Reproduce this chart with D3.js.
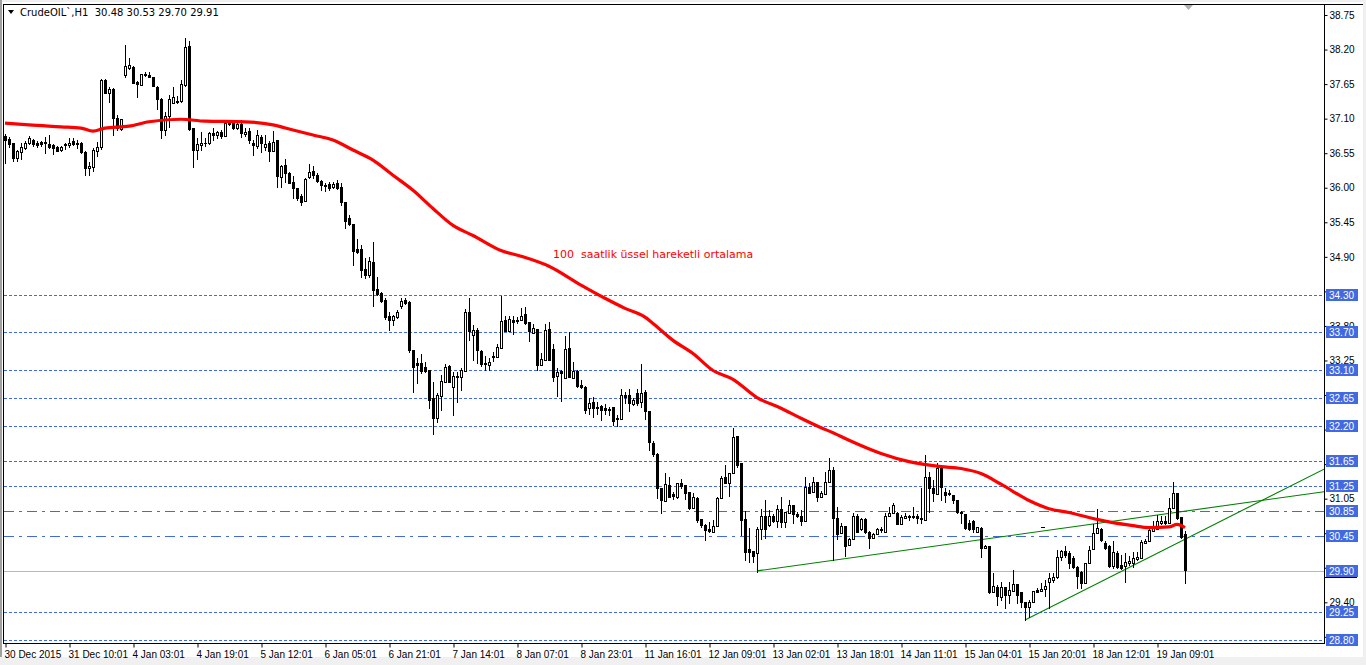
<!DOCTYPE html>
<html><head><meta charset="utf-8">
<script src="https://cdn.jsdelivr.net/npm/d3@7"></script>
<style>
html,body{margin:0;padding:0;background:#f0f0f0;overflow:hidden}
svg{display:block}
text{font-family:"Liberation Sans",Arial,sans-serif}
</style></head>
<body>
<svg id="c" width="1366" height="665"></svg>
<script>
// ---------------- DATA ----------------
const symbolTitle = "CrudeOIL`,H1  30.48 30.53 29.70 29.91";
const emaLabel = "100  saatlik üssel hareketli ortalama";

// OHLC of each H1 bar
const opens = [
36.82,36.78,36.71,36.47,36.57,36.63,36.71,36.76,36.71,36.73,
36.73,36.70,36.68,36.65,36.60,36.70,36.68,36.74,36.71,36.71,
36.57,36.31,36.33,36.58,36.65,37.72,37.51,37.57,37.11,36.94,
37.80,37.91,37.92,37.69,37.64,37.80,37.80,37.76,37.61,37.41,
36.92,37.14,37.35,37.37,37.38,37.64,38.26,36.95,36.60,36.68,
36.71,36.71,36.87,36.84,36.89,36.82,37.02,37.03,36.95,37.02,
36.86,36.90,36.71,36.66,36.81,36.65,36.71,36.58,36.76,36.17,
36.36,36.23,36.09,36.00,35.87,35.79,36.17,36.27,36.20,36.11,
36.04,36.06,36.01,36.08,36.01,35.77,35.52,35.43,35.03,35.03,
34.71,34.61,34.82,34.39,34.33,34.21,33.96,33.90,33.94,34.12,
34.21,34.18,33.42,33.21,33.21,33.15,33.10,32.65,32.34,32.69,
32.91,33.16,32.83,33.00,32.99,33.08,34.02,33.66,33.74,33.40,
33.21,33.18,33.31,33.31,33.45,33.90,33.72,33.90,33.88,33.90,
33.99,33.86,33.69,33.75,33.18,33.26,33.75,33.43,33.00,33.08,
32.97,33.45,32.97,33.08,32.86,32.83,32.49,32.59,32.51,32.53,
32.49,32.48,32.51,32.34,32.32,32.70,32.70,32.56,32.73,32.59,
32.75,32.45,31.94,31.76,31.22,31.01,31.27,31.13,31.08,31.30,
31.27,31.16,30.90,31.06,30.73,30.63,30.57,30.52,30.62,31.06,
31.40,31.30,31.46,32.05,31.62,30.73,30.25,30.22,30.19,30.57,
30.78,30.63,30.78,30.70,30.89,30.68,30.82,30.95,30.81,30.78,
30.70,31.24,31.16,31.32,31.08,31.13,31.32,31.51,30.74,30.50,
30.62,30.31,30.41,30.78,30.57,30.73,30.52,30.42,30.49,30.55,
30.52,30.78,30.82,30.82,30.65,30.74,30.78,30.76,30.78,30.73,
30.71,31.40,31.22,31.13,31.54,31.16,31.13,31.11,31.03,30.84,
30.81,30.66,30.70,30.52,30.58,30.27,30.30,29.57,29.65,29.49,
29.65,29.52,29.58,29.69,29.57,29.41,29.33,29.41,29.60,29.58,
29.61,29.73,29.76,29.81,30.12,30.22,30.19,30.11,29.96,29.88,
29.71,30.03,30.25,30.50,30.57,30.35,30.30,29.98,30.19,29.99,
29.98,30.03,30.03,30.09,30.11,30.35,30.38,30.54,30.57,30.66,
30.70,30.66,30.90,31.14,30.76,30.48];
const highs = [
36.86,36.81,36.71,36.60,36.71,36.75,36.82,36.78,36.74,36.74,
36.81,36.84,36.70,36.66,36.66,36.71,36.79,36.79,36.76,36.73,
36.58,36.41,36.63,36.73,37.73,37.73,37.61,37.59,37.16,37.10,
38.27,38.06,37.94,37.70,37.81,37.84,37.84,37.76,37.62,37.43,
37.21,37.48,37.61,37.46,37.72,38.39,38.34,36.95,36.79,36.89,
36.79,36.89,36.95,36.90,36.92,37.03,37.05,37.08,37.08,37.08,
36.95,36.95,36.76,36.92,36.84,36.84,36.74,36.90,36.76,36.36,
36.46,36.25,36.19,36.00,35.90,36.16,36.38,36.35,36.24,36.12,
36.08,36.09,36.09,36.12,36.08,35.77,35.57,35.43,35.19,35.09,
34.88,34.90,35.14,34.58,34.34,34.25,34.02,33.97,34.05,34.25,
34.25,34.20,33.42,33.29,33.35,33.23,33.10,32.91,32.73,33.02,
33.20,33.18,33.07,33.07,33.13,34.07,34.25,33.82,33.77,33.42,
33.32,33.29,33.39,33.52,34.28,33.96,33.96,33.96,33.94,34.09,
34.10,33.86,33.83,33.75,33.37,33.83,33.86,33.51,33.13,33.10,
33.64,33.70,33.23,33.10,32.94,32.84,32.65,32.67,32.59,32.54,
32.56,32.51,32.51,32.38,32.80,32.75,32.80,32.65,32.80,33.20,
32.78,32.45,31.97,31.78,31.22,31.46,31.40,31.16,31.30,31.36,
31.27,31.16,31.14,31.08,30.73,30.65,30.68,30.71,31.08,31.41,
31.59,31.46,32.18,32.05,31.62,30.85,30.58,30.22,30.60,30.89,
31.03,30.87,30.81,30.95,31.08,30.84,31.03,30.95,30.84,30.87,
31.40,31.30,31.40,31.32,31.17,31.48,31.70,31.56,30.92,30.66,
30.62,30.42,30.82,30.81,30.74,30.74,30.54,30.50,30.58,30.60,
30.82,30.92,30.98,30.84,30.79,30.82,30.79,30.92,30.81,31.22,
31.75,31.48,31.35,31.62,31.56,31.22,31.19,31.11,31.03,30.86,
30.81,30.71,30.71,30.60,30.60,30.31,30.30,29.87,29.68,29.73,
29.65,29.73,29.92,29.69,29.57,29.41,29.44,29.58,29.63,29.71,
29.76,29.87,29.87,30.23,30.23,30.30,30.22,30.14,29.98,29.90,
30.03,30.30,30.65,30.88,30.58,30.38,30.31,30.38,30.22,30.15,
30.19,30.14,30.20,30.20,30.39,30.41,30.58,30.70,30.79,30.78,
30.78,31.06,31.32,31.14,30.76,30.53];
const lows = [
36.39,36.65,36.42,36.42,36.46,36.62,36.70,36.66,36.65,36.66,
36.55,36.63,36.54,36.58,36.58,36.62,36.65,36.68,36.63,36.55,
36.20,36.20,36.27,36.50,36.62,37.51,37.37,36.84,36.92,36.92,
37.76,37.89,37.67,37.45,37.64,37.78,37.76,37.62,37.25,36.79,
36.84,36.97,37.35,37.35,37.37,37.62,36.92,36.33,36.46,36.60,
36.66,36.70,36.76,36.79,36.79,36.82,37.00,36.94,36.94,36.81,
36.82,36.71,36.52,36.63,36.57,36.60,36.42,36.58,36.01,36.01,
36.09,36.08,35.84,35.81,35.73,35.79,36.16,36.16,36.09,35.97,
35.95,35.97,36.00,35.98,35.73,35.36,35.41,34.77,34.96,34.58,
34.56,34.58,34.12,34.30,34.18,33.91,33.74,33.82,33.93,34.09,
34.15,33.39,32.75,32.89,33.05,33.07,32.49,32.08,32.27,32.46,
32.91,32.91,32.38,32.59,32.78,33.08,33.58,33.26,33.21,33.16,
33.10,33.10,33.24,33.31,33.45,33.72,33.72,33.67,33.85,33.90,
33.83,33.56,33.69,33.10,33.18,33.26,33.26,32.92,32.69,32.61,
32.97,32.99,32.97,32.83,32.81,32.41,32.40,32.35,32.40,32.30,
32.40,32.38,32.22,32.21,32.32,32.57,32.45,32.54,32.54,32.51,
32.32,31.83,31.73,31.06,30.82,31.01,31.08,31.05,31.06,31.22,
31.05,30.89,30.90,30.68,30.60,30.39,30.52,30.52,30.62,31.06,
31.30,31.09,31.46,31.56,30.47,30.07,30.04,30.04,29.88,30.41,
30.42,30.62,30.68,30.60,30.60,30.60,30.82,30.66,30.76,30.63,
30.70,31.14,31.16,31.01,31.08,31.13,31.32,30.07,30.41,30.50,
30.14,30.31,30.41,30.52,30.55,30.50,30.27,30.42,30.49,30.52,
30.52,30.78,30.82,30.65,30.65,30.74,30.71,30.74,30.66,30.66,
30.71,30.84,31.01,31.13,31.03,31.00,31.11,30.98,30.82,30.66,
30.57,30.55,30.52,30.52,30.12,30.26,29.55,29.57,29.36,29.44,
29.31,29.39,29.58,29.39,29.33,29.12,29.17,29.41,29.57,29.58,
29.50,29.31,29.73,29.79,30.07,30.12,29.95,29.95,29.63,29.63,
29.71,30.03,30.25,30.50,30.38,30.25,29.96,29.95,29.95,29.93,
29.73,29.99,29.96,30.07,30.11,30.35,30.38,30.54,30.57,30.65,
30.65,30.66,30.90,30.72,30.42,29.70];
const closes = [
36.76,36.70,36.47,36.58,36.65,36.71,36.79,36.70,36.68,36.70,
36.71,36.65,36.63,36.58,36.65,36.68,36.71,36.70,36.70,36.57,
36.31,36.34,36.60,36.65,37.72,37.51,37.57,37.11,36.95,37.09,
37.94,37.96,37.67,37.65,37.81,37.81,37.76,37.62,37.41,36.92,
37.14,37.41,37.45,37.38,37.65,38.24,36.94,36.60,36.70,36.71,
36.72,36.87,36.84,36.89,36.82,37.03,37.03,36.95,37.02,36.87,
36.89,36.76,36.68,36.84,36.71,36.70,36.58,36.73,36.19,36.35,
36.23,36.08,36.00,35.84,35.77,36.14,36.25,36.20,36.11,36.04,
36.03,36.00,36.06,36.00,35.77,35.47,35.43,34.99,34.98,34.69,
34.61,34.83,34.37,34.31,34.19,33.94,33.90,33.96,34.02,34.19,
34.17,33.42,33.15,33.18,33.08,33.08,32.62,32.34,32.70,32.92,
33.15,32.91,33.00,32.99,33.10,34.02,33.72,33.74,33.42,33.20,
33.20,33.23,33.32,33.47,33.88,33.72,33.91,33.86,33.90,33.96,
33.85,33.72,33.77,33.18,33.28,33.74,33.26,32.99,33.07,33.05,
33.43,32.99,33.08,32.85,32.83,32.46,32.57,32.49,32.49,32.46,
32.46,32.46,32.29,32.32,32.70,32.67,32.57,32.62,32.57,32.73,
32.45,31.95,31.76,31.22,31.03,31.28,31.08,31.09,31.30,31.25,
31.14,30.90,31.08,30.71,30.63,30.55,30.54,30.62,31.06,31.38,
31.30,31.46,32.03,31.59,30.71,30.20,30.20,30.14,30.57,30.78,
30.57,30.78,30.70,30.89,30.68,30.84,30.95,30.81,30.78,30.70,
31.24,31.14,31.32,31.08,31.14,31.32,31.51,30.74,30.49,30.62,
30.30,30.41,30.78,30.52,30.73,30.52,30.42,30.49,30.57,30.57,
30.78,30.82,30.95,30.65,30.76,30.78,30.76,30.78,30.74,30.74,
31.40,31.22,31.14,31.54,31.24,31.11,31.14,31.03,30.84,30.82,
30.58,30.57,30.57,30.60,30.27,30.30,29.57,29.66,29.50,29.65,
29.52,29.60,29.69,29.52,29.41,29.33,29.41,29.58,29.57,29.61,
29.66,29.79,29.81,30.12,30.22,30.15,30.03,29.96,29.82,29.71,
30.03,30.23,30.50,30.58,30.39,30.27,29.98,30.20,29.96,29.95,
30.04,30.06,30.11,30.12,30.36,30.38,30.55,30.58,30.70,30.70,
30.66,30.90,31.14,30.74,30.44,29.91];

// 100-period EMA, read at sample bars
const emaBars   = [0,6,14,19,22,25,31,36,44,50,60,67,72,77,82,87,92,97,102,107,112,117,124,129,136,144,150,155,160,162,167,172,177,182,188,194,199,204,207,211,219,226,234,239,244,249,256,261,266,271,276,282,286,291,293,295];
const emaValues = [37.03,37.00,36.97,36.95,36.90,36.95,36.98,37.05,37.09,37.06,37.05,37.00,36.92,36.84,36.76,36.60,36.44,36.20,35.96,35.67,35.40,35.24,35.00,34.91,34.75,34.45,34.24,34.08,33.94,33.84,33.57,33.36,33.09,32.95,32.66,32.49,32.33,32.18,32.10,31.98,31.77,31.64,31.56,31.53,31.45,31.28,31.02,30.89,30.83,30.75,30.68,30.62,30.59,30.60,30.64,30.59];

// horizontal levels
const levelPrices = [34.30,33.70,33.10,32.65,32.20,31.65,31.25,30.85,30.45,29.90,29.25,28.80];
const levelStyles = ["dot","dot","dot","dot","dot","dot","dot","dashdot","dashdot","bid","dot","dot"];

// trend lines (bar index, price) endpoints
const trendUpperBars = [188, 329.75], trendUpperPrices = [29.90, 31.16];
const trendLowerBars = [255, 329.75], trendLowerPrices = [29.12, 31.52];

// axes
const priceTicks = [38.75,38.20,37.65,37.10,36.55,36.00,35.45,34.90,34.35,33.80,33.25,32.70,32.15,31.60,31.05,30.50,29.95,29.40,28.85];
const timeLabelBars = [0,16,32,48,64,80,96,112,128,144,160,176,192,208,224,240,256,272,288];
const timeLabels = ["30 Dec 2015","31 Dec 10:01","4 Jan 03:01","4 Jan 19:01","5 Jan 12:01","6 Jan 05:01","6 Jan 21:01","7 Jan 14:01","8 Jan 07:01","8 Jan 23:01","11 Jan 16:01","12 Jan 09:01","13 Jan 02:01","13 Jan 18:01","14 Jan 11:01","15 Jan 04:01","15 Jan 20:01","18 Jan 12:01","19 Jan 09:01"];

// ---------------- DRAW ----------------
const svg = d3.select("#c");
const W = 1366, H = 665;
const plotL = 4, plotR = 1324, plotT = 4, plotB = 643;

const x = d3.scaleLinear().domain([0, 329]).range([5, 1321]);
const y = d3.scaleLinear().domain([28.80, 38.75]).range([640, 15]);

svg.append("rect").attr("x",0).attr("y",0).attr("width",W).attr("height",H).attr("fill","#f0f0f0");
svg.append("rect").attr("x",2).attr("y",2).attr("width",1361).attr("height",655).attr("fill","#ffffff");
svg.append("rect").attr("x",0).attr("y",0).attr("width",2).attr("height",657).attr("fill","#a0a0a0");

const clip = svg.append("defs").append("clipPath").attr("id","pc");
clip.append("rect").attr("x",plotL).attr("y",plotT).attr("width",plotR-plotL).attr("height",plotB-plotT);
const g = svg.append("g").attr("clip-path","url(#pc)");

// levels
levelPrices.forEach((p,i)=>{
  const yy = Math.round(y(p))+0.5;
  const st = levelStyles[i];
  if (st==="bid") {
    g.append("line").attr("x1",plotL).attr("x2",plotR).attr("y1",yy).attr("y2",yy)
      .attr("stroke","#b4b8c4").attr("stroke-width",1);
  } else {
    g.append("line").attr("x1",plotL).attr("x2",plotR).attr("y1",yy).attr("y2",yy)
      .attr("stroke","#4169e1").attr("stroke-width",1)
      .attr("stroke-dasharray", st==="dashdot" ? "10,5,3,5" : "3,2");
  }
});

// trend lines
[[trendUpperBars,trendUpperPrices],[trendLowerBars,trendLowerPrices]].forEach(([b,p])=>{
  g.append("line").attr("x1",x(b[0])).attr("y1",y(p[0])).attr("x2",x(b[1])).attr("y2",y(p[1]))
    .attr("stroke","#008000").attr("stroke-width",1.1);
});

// small marker
g.append("line").attr("x1",x(259.5)-2).attr("x2",x(259.5)+2).attr("y1",Math.round(y(30.60))+0.5).attr("y2",Math.round(y(30.60))+0.5).attr("stroke","#000");

// candles
const cg = g.append("g");
opens.forEach((o,i)=>{
  const c = closes[i], h = highs[i], l = lows[i];
  const cx = Math.round(x(i));
  cg.append("line").attr("x1",cx+0.5).attr("x2",cx+0.5)
    .attr("y1",Math.round(y(h))).attr("y2",Math.round(y(l))+1)
    .attr("stroke","#000").attr("stroke-width",1);
  const top = Math.round(y(Math.max(o,c))), bot = Math.round(y(Math.min(o,c)));
  if (c < o || bot-top < 2) {
    cg.append("rect").attr("x",cx-1).attr("y",top).attr("width",3).attr("height",Math.max(1,bot-top+1)).attr("fill","#000");
  } else {
    cg.append("rect").attr("x",cx-0.5).attr("y",top+0.5).attr("width",2).attr("height",bot-top)
      .attr("fill","#fff").attr("stroke","#000").attr("stroke-width",1);
  }
});

// EMA
const emaLine = d3.line().x((d,i)=>x(emaBars[i])).y(d=>y(d)).curve(d3.curveMonotoneX);
g.append("path").attr("d",emaLine(emaValues)).attr("fill","none").attr("stroke","#ff0000").attr("stroke-width",3.2);

// EMA label
svg.append("text").attr("x",553).attr("y",258).attr("fill","#ff0000").attr("font-size",11)
  .attr("font-family","DejaVu Sans, sans-serif").style("font-family","'DejaVu Sans', sans-serif")
  .attr("xml:space","preserve").style("white-space","pre").text(emaLabel);

// frame
svg.append("line").attr("x1",plotL-0.5).attr("x2",1363).attr("y1",plotT+0.5).attr("y2",plotT+0.5).attr("stroke","#000");
svg.append("line").attr("x1",plotL-0.5).attr("x2",plotL-0.5).attr("y1",plotT).attr("y2",plotB).attr("stroke","#000");

// price axis
const ya = d3.axisRight(y).tickValues(priceTicks).tickFormat(d3.format(".2f")).tickSize(3).tickSizeOuter(0);
const yag = svg.append("g").attr("transform",`translate(${plotR+0.5},0)`).call(ya);
yag.select(".domain").attr("d",`M0,${plotT}V${plotB}`).attr("stroke","#000");
yag.selectAll(".tick line").attr("stroke","#000");
yag.selectAll(".tick text").attr("x",5).attr("font-size",10).attr("fill","#000").attr("font-family","Liberation Sans, Arial, sans-serif")
  .style("display", d => levelPrices.some(p => Math.abs(y(p)-y(d)) < 4) ? "none" : null);

// level labels on price axis
levelPrices.forEach((p,i)=>{
  const yy = Math.round(y(p));
  svg.append("rect").attr("x",plotR+2).attr("y",yy-6).attr("width",32).attr("height",12).attr("fill","#4169e1");
  svg.append("text").attr("x",plotR+5).attr("y",yy+4).attr("fill","#fff").attr("font-size",10).text(d3.format(".2f")(p));
});
svg.append("line").attr("x1",plotR).attr("x2",plotR+33).attr("y1",Math.round(y(29.90))+6.5).attr("y2",Math.round(y(29.90))+6.5).attr("stroke","#000");

// time axis
const xa = d3.axisBottom(x).tickValues(timeLabelBars).tickFormat((d,i)=>timeLabels[i]).tickSize(4).tickSizeOuter(0);
const xag = svg.append("g").attr("transform",`translate(0,${plotB+0.5})`).call(xa);
xag.select(".domain").attr("d",`M${plotL-1},0H${plotR+1}`).attr("stroke","#000");
xag.selectAll(".tick line").attr("stroke","#000").attr("transform","translate(0.5,0)");
xag.selectAll(".tick text").attr("text-anchor","start").attr("x",-1).attr("y",7).attr("font-size",10).attr("fill","#000").attr("font-family","Liberation Sans, Arial, sans-serif");

// header
svg.append("path").attr("d","M8,10 L14,10 L11,14 Z").attr("fill","#000");
svg.append("text").attr("x",20).attr("y",16).attr("font-size",10).style("font-family","'DejaVu Sans', sans-serif")
  .style("white-space","pre").attr("fill","#000").text(symbolTitle);
// shift marker
svg.append("path").attr("d","M1184,5 L1193,5 L1188.5,10 Z").attr("fill","#b0b0b0");
</script>
</body></html>
